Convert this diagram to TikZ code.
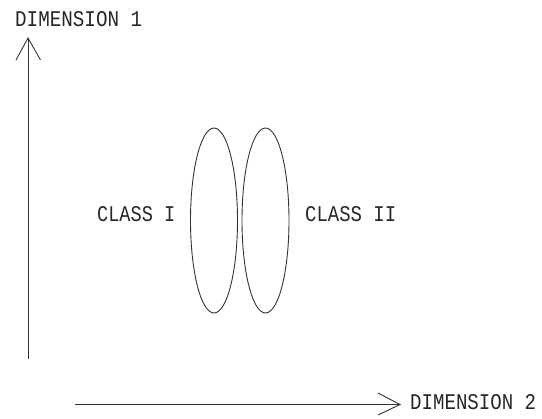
\documentclass[tikz,border=0pt]{standalone}
\usepackage{fontspec}
\usetikzlibrary{shapes.geometric}
\newfontfamily\labelfont{Liberation Mono}
\newcommand{\lbltext}[3]{\resizebox{#1pt}{#2pt}{#3}}
\begin{document}
\begin{tikzpicture}[x=1pt,y=-1pt,
  lbl/.style={font=\labelfont\fontsize{20}{20}\selectfont, inner sep=0pt, anchor=base west, text=black!85},
  ln/.style={draw=black!80, line width=0.9pt},
  cls/.style={ln, ellipse, minimum width=47pt, minimum height=185pt, inner sep=0pt}]
\useasboundingbox (0,0) rectangle (542,419);
% vertical axis
\coordinate (vb) at (28,359);
\coordinate (vt) at (28,38);
\draw[ln] (vb) -- (vt);
\draw[ln] (16,60) -- (vt) -- (40.5,60);
\node[lbl] (d1) at (15,27) {\lbltext{127}{15}{DIMENSION 1}};
% horizontal axis
\coordinate (hb) at (75,404.5);
\coordinate (ht) at (400,404.5);
\draw[ln] (hb) -- (ht);
\draw[ln] (378,393) -- (ht) -- (378,415);
\node[lbl] (d2) at (410,410) {\lbltext{126}{15}{DIMENSION 2}};
% ellipses
\node[cls] (e1) at (214,220.5) {};
\node[cls] (e2) at (265.5,220.5) {};
\node[lbl] (c1) at (97,222) {\lbltext{78}{15}{CLASS I}};
\node[lbl] (c2) at (305,222) {\lbltext{91}{15}{CLASS II}};
\end{tikzpicture}
\end{document}
